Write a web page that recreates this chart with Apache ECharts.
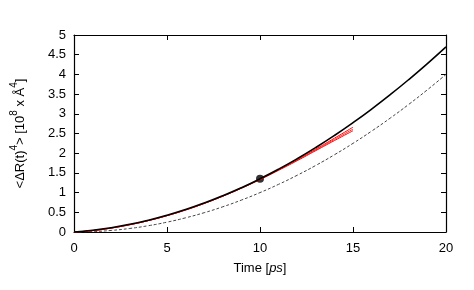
<!DOCTYPE html>
<html><head><meta charset="utf-8">
<script src="https://cdn.jsdelivr.net/npm/echarts@6/dist/echarts.min.js"></script>
<style>html,body{margin:0;padding:0;background:#fff}#c{width:474px;height:290px}</style>
</head><body><div id="c"></div>
<script>
const times = [0,1,2,3,4,5,6,7,8,9,10,11,12,13,14,15,16,17,18,19,20];
const blackVals = [0,0.045,0.11,0.195,0.30,0.425,0.57,0.735,0.92,1.125,1.35,1.595,1.86,2.145,2.45,2.775,3.12,3.485,3.87,4.275,4.70];
const dashedVals = [0,0.01,0.04,0.09,0.16,0.25,0.36,0.49,0.64,0.81,1.0,1.21,1.44,1.69,1.96,2.25,2.56,2.89,3.24,3.61,4.0];
const redTimes = [0,1,2,3,4,5,6,7,8,9,10,11,12,13,14,15];
const red1 = [0,0.035,0.10,0.185,0.29,0.415,0.56,0.725,0.91,1.115,1.34,1.585,1.84,2.105,2.38,2.66];
const red2 = [0,0.035,0.10,0.185,0.29,0.415,0.56,0.725,0.91,1.115,1.335,1.575,1.825,2.085,2.35,2.61];
const red3 = [0,0.035,0.10,0.185,0.29,0.415,0.56,0.725,0.91,1.11,1.33,1.565,1.81,2.065,2.32,2.57];
const marker = [[10,1.35]];
const xTicks = [0,5,10,15,20];
const yTicks = [0,0.5,1,1.5,2,2.5,3,3.5,4,4.5,5];

const pair = (xs, ys) => xs.map((x,i)=>[x,ys[i]]);
const font = 'Liberation Sans, Arial, sans-serif';
const chart = echarts.init(document.getElementById('c'));
const tick = {show:true, inside:true, length:5, lineStyle:{color:'#000',width:1}};
const line = {show:true,onZero:false,lineStyle:{color:'#000',width:1.2}};
chart.setOption({
  animation:false,
  grid:{left:74,right:28,top:35,bottom:58},
  xAxis:[{
    type:'value',min:0,max:20,interval:5,
    axisLine:line,axisTick:tick,splitLine:{show:false},
    axisLabel:{color:'#000',fontFamily:font,fontSize:13,margin:10,showMinLabel:true,showMaxLabel:true},
    name:'{n|Time [}{i|ps}{n|]}',nameLocation:'middle',nameGap:30,
    nameTextStyle:{rich:{n:{fontFamily:font,fontSize:13,color:'#000'},i:{fontFamily:font,fontSize:13,fontStyle:'italic',color:'#000'}}}
  },{
    type:'value',position:'top',min:0,max:20,interval:5,
    axisLine:line,axisTick:tick,axisLabel:{show:false},splitLine:{show:false}
  }],
  yAxis:[{
    type:'value',min:0,max:5,interval:0.5,
    axisLine:line,axisTick:tick,splitLine:{show:false},
    axisLabel:{color:'#000',fontFamily:font,fontSize:13,margin:8},
    name:'{n|<ΔR(t)}{s|4}{n|> [10}{s|8}{n| x Å}{s|4}{n|]}',nameLocation:'middle',nameGap:47,nameRotate:90,
    nameTextStyle:{rich:{
      n:{fontFamily:font,fontSize:13,color:'#000',lineHeight:18,verticalAlign:'bottom'},
      s:{fontFamily:font,fontSize:10,color:'#000',lineHeight:18,verticalAlign:'top'}
    }}
  },{
    type:'value',position:'right',min:0,max:5,interval:0.5,
    axisLine:line,axisTick:tick,axisLabel:{show:false},splitLine:{show:false}
  }],
  series:[
    {type:'line',data:pair(times,dashedVals),smooth:true,showSymbol:false,lineStyle:{color:'#444',width:1,type:[3,2]}},
    {type:'line',data:pair(redTimes,red1),smooth:true,showSymbol:false,lineStyle:{color:'#ff0000',width:1}},
    {type:'line',data:pair(redTimes,red2),smooth:true,showSymbol:false,lineStyle:{color:'#ff3030',width:1}},
    {type:'line',data:pair(redTimes,red3),smooth:true,showSymbol:false,lineStyle:{color:'#ff0000',width:1}},
    {type:'line',data:pair(times,blackVals),smooth:true,showSymbol:false,lineStyle:{color:'#000',width:1.6}},
    {type:'scatter',data:marker,symbolSize:8,itemStyle:{color:'#000'}}
  ]
});
</script></body></html>
